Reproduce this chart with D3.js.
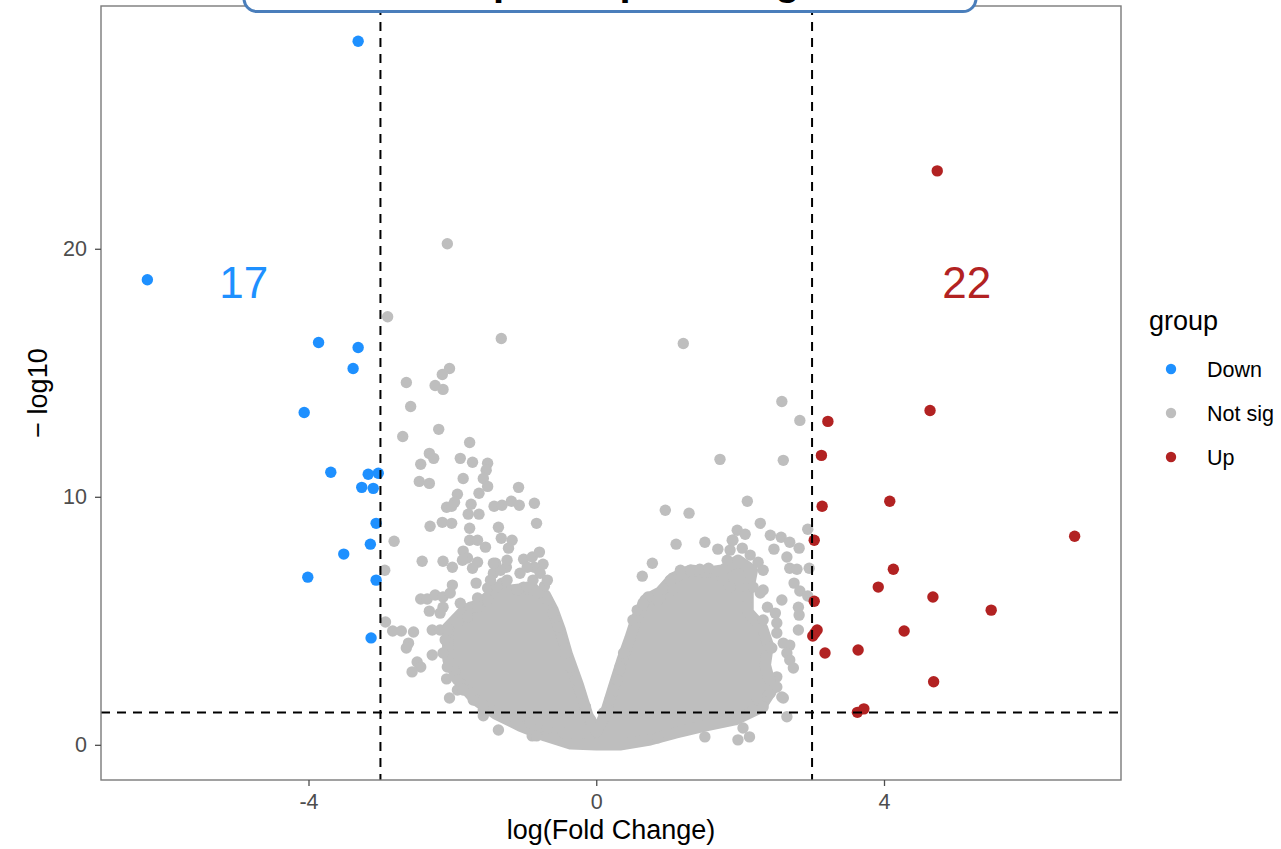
<!DOCTYPE html>
<html>
<head>
<meta charset="utf-8">
<script src="https://cdn.jsdelivr.net/npm/d3@7"></script>
<style>
  html, body { margin: 0; padding: 0; background: #fff; }
  svg { display: block; font-family: "Liberation Sans", Arial, Helvetica, sans-serif; }
</style>
</head>
<body>
<div id="chart"></div>
<script>
// thresholds used by the dashed cut-off lines
const foldChangeCutoff = 3;
const pValueCutoff = 0.05;

const groups = ['Down', 'Not sig', 'Up'];
const groupColors = ['#1E90FF', '#BEBEBE', '#B22222'];

const xTicks = [-4, 0, 4];
const yTicks = [0, 10, 20];

const titleText = 'Volcano plot: Up/Down genes';

/** [logFC, -log10(p)] of the significant down-regulated genes */
const downPoints = [
  [-3.31, 28.37], [-6.24, 18.75], [-3.86, 16.22], [-3.31, 16.02], [-3.38, 15.17],
  [-4.06, 13.40], [-3.69, 10.99], [-3.17, 10.91], [-3.03, 10.95], [-3.26, 10.38],
  [-3.10, 10.34], [-3.06, 8.93], [-3.14, 8.09], [-3.51, 7.69], [-4.01, 6.76],
  [-3.06, 6.64], [-3.13, 4.31]
];

/** [logFC, -log10(p)] of the significant up-regulated genes */
const upPoints = [
  [4.74, 23.14], [4.64, 13.48], [3.22, 13.04], [3.13, 11.67], [4.08, 9.82],
  [3.14, 9.62], [6.65, 8.41], [3.03, 8.25], [4.13, 7.08], [3.92, 6.36],
  [4.68, 5.96], [3.03, 5.79], [5.49, 5.43], [4.28, 4.59], [3.04, 4.51],
  [3.01, 4.39], [3.07, 4.63], [3.64, 3.82], [3.18, 3.70], [4.69, 2.54],
  [3.63, 1.31], [3.72, 1.45]
];

/** [logFC, -log10(p)] of the not significant genes that can be told apart */
const notSigPoints = [
  [-2.07, 20.20], [-2.90, 17.26], [-1.32, 16.38], [-2.04, 15.17], [-2.14, 14.93], [-2.64, 14.61], [-2.24, 14.49], [-2.13, 14.33],
  [-2.58, 13.64], [-2.19, 12.72], [-2.69, 12.43], [-1.76, 12.19], [-2.32, 11.75], [-2.26, 11.55], [-2.44, 11.31], [-1.89, 11.55],
  [-1.72, 11.39], [-1.51, 11.35], [-1.53, 11.07], [-1.85, 10.74], [-2.46, 10.62], [-2.32, 10.54], [-1.57, 10.74], [-1.51, 10.42],
  [-1.08, 10.38], [-1.63, 10.14], [-1.93, 10.10], [-1.97, 9.78], [-2.08, 9.58], [-2.01, 9.62], [-1.74, 9.70], [-1.42, 9.62],
  [-1.31, 9.66], [-1.18, 9.82], [-1.07, 9.66], [-0.86, 9.74], [-1.78, 9.30], [-1.63, 9.30], [-2.31, 8.81], [-2.14, 8.97],
  [-2.01, 8.93], [-1.76, 8.73], [-1.36, 8.77], [-0.83, 8.93], [-2.81, 8.21], [-1.76, 8.25], [-1.65, 8.25], [-1.54, 7.97],
  [-1.32, 8.33], [-1.17, 8.25], [-1.22, 7.93], [-1.85, 7.81], [-1.79, 7.53], [-1.86, 7.44], [-1.65, 7.36], [-1.72, 7.12],
  [-2.13, 7.40], [-2.00, 7.16], [-1.40, 7.32], [-1.43, 6.92], [-1.25, 7.16], [-1.24, 7.44], [-1.01, 7.48], [-0.89, 7.57],
  [-0.79, 7.77], [-0.74, 7.28], [-0.86, 7.16], [-2.42, 7.40], [-2.94, 7.04], [-2.00, 6.44], [-1.67, 6.52], [-1.51, 6.32],
  [-1.31, 6.52], [-1.01, 6.36], [-0.88, 6.32], [-0.72, 6.40], [-2.44, 5.88], [-2.35, 5.88], [-2.24, 6.04], [-2.13, 5.96],
  [-2.03, 6.12], [-1.89, 5.71], [-1.75, 5.55], [-1.65, 5.92], [-2.32, 5.39], [-2.13, 5.55], [-2.17, 5.31], [-2.93, 4.95],
  [-2.83, 4.59], [-2.71, 4.59], [-2.54, 4.55], [-2.61, 4.10], [-2.64, 3.90], [-2.28, 4.63], [-2.17, 4.63], [-2.28, 3.62],
  [-2.49, 3.34], [-2.44, 3.14], [-2.56, 2.94], [-2.08, 2.66], [-1.93, 2.21], [-1.86, 2.25], [-2.04, 1.89], [-1.57, 1.17],
  [-1.36, 0.60], [-0.89, 0.36], [-0.83, 0.36],
  // left lobe rim
  [-2.07, 4.63], [-2.10, 4.23], [-2.13, 3.70], [-2.07, 3.14], [-1.93, 2.62], [-1.85, 2.21], [-1.71, 1.81], [-1.57, 1.41],
  [-1.38, 1.29], [-1.15, 1.13], [-0.92, 0.89], [-0.68, 0.68], [-0.46, 0.48], [-1.93, 4.91], [-1.79, 5.15], [-1.65, 5.55],
  [-1.51, 5.84], [-1.38, 6.36], [-1.24, 6.64], [-1.10, 6.24], [-0.96, 6.36], [-0.82, 6.12], [-0.68, 5.84], [-0.60, 5.31],
  [-0.53, 4.75], [-0.47, 4.23], [-0.43, 3.70], [-0.36, 3.14], [-0.29, 2.62], [-0.22, 2.09], [-0.15, 1.53], [-0.08, 1.01],
  [-1.06, 6.92], [-0.96, 7.16], [-0.88, 6.64], [-0.78, 6.92], [-0.68, 6.64], [-1.47, 6.64], [-1.33, 7.04], [-1.43, 7.32],
  // right side
  [1.21, 16.18], [2.58, 13.84], [2.83, 13.08], [1.72, 11.51], [2.60, 11.47], [0.96, 9.46], [1.29, 9.34], [2.10, 9.82],
  [2.28, 8.93], [1.96, 8.65], [2.07, 8.49], [2.42, 8.45], [2.57, 8.37], [2.69, 8.17], [2.94, 8.69], [1.11, 8.09],
  [1.51, 8.17], [1.69, 7.89], [1.86, 7.85], [1.89, 8.25], [2.47, 7.89], [2.65, 7.57], [2.82, 7.93], [0.78, 7.32],
  [0.64, 6.80], [2.69, 7.12], [2.79, 7.08], [2.96, 7.12], [2.75, 6.52], [2.83, 6.20], [2.32, 6.24], [2.10, 6.32],
  [2.10, 5.92], [0.72, 5.96], [0.89, 5.88], [2.58, 5.84], [2.81, 5.55], [2.94, 6.00], [2.49, 5.31], [2.51, 4.91],
  [2.81, 4.63], [2.74, 3.10], [2.60, 4.10], [2.69, 4.02], [2.44, 3.90], [2.51, 2.74], [2.60, 1.89], [2.42, 2.09],
  [2.24, 1.89], [2.65, 1.13], [2.04, 0.68], [2.13, 0.32], [1.97, 0.20], [1.51, 0.32], [0.85, 0.28], [2.82, 5.23],
  // right lobe rim
  [1.17, 7.04], [1.31, 7.04], [1.44, 7.08], [1.56, 7.12], [1.03, 6.64], [1.07, 6.24], [1.90, 8.25], [2.03, 7.93],
  [2.14, 7.65], [2.25, 7.36], [2.32, 7.04], [1.82, 7.44], [1.76, 6.64], [1.86, 6.36], [2.18, 6.36], [2.28, 6.12],
  [2.38, 5.55], [2.32, 5.03], [2.51, 4.51], [2.42, 3.94], [2.65, 3.70], [2.69, 3.42], [2.42, 2.62], [2.51, 2.33],
  [2.58, 1.93], [2.32, 1.53], [2.18, 1.41], [0.51, 5.03], [0.57, 5.43], [0.65, 5.71], [0.85, 5.84], [0.38, 3.70],
  [0.33, 3.14], [0.29, 2.62], [0.19, 1.81], [0.10, 1.29]
];

/** outline (point centres) of the dense, fully overlapped not-sig cloud */
const notSigCloud = [
  [-2.07, 4.71], [-1.86, 5.35], [-1.61, 5.71], [-1.40, 6.24], [-1.19, 6.24], [-0.94, 6.32], [-0.71, 6.04],
  [-0.60, 5.43], [-0.50, 4.63], [-0.40, 3.62], [-0.25, 2.41], [-0.12, 1.20], [0.00, 0.52], [0.12, 1.20],
  [0.25, 2.41], [0.36, 3.42], [0.47, 4.31], [0.56, 5.11], [0.68, 5.84], [0.89, 6.16], [1.06, 6.72],
  [1.31, 7.04], [1.56, 6.96], [1.75, 7.04], [1.97, 7.44], [2.17, 7.04], [2.11, 6.16], [2.11, 5.35],
  [2.31, 4.71], [2.39, 4.02], [2.35, 3.22], [2.44, 2.21], [2.28, 1.49], [1.93, 1.01], [1.51, 0.76],
  [1.10, 0.48], [0.75, 0.20], [0.33, 0.00], [0.00, 0.00], [-0.36, 0.04], [-0.71, 0.36], [-1.06, 0.76],
  [-1.40, 1.25], [-1.68, 1.81], [-1.89, 2.49], [-2.06, 3.42]
];

/** count labels, placed in data units */
const countLabels = [
  { group: 'Down', x: -4.9, y: 18.65 },
  { group: 'Up', x: 5.15, y: 18.65 }
];

const layout = { width: 1281, height: 849, left: 101, right: 1121, top: 6, bottom: 780 };
const pointRadius = 5.7;
const colorOf = d3.scaleOrdinal().domain(groups).range(groupColors);

const svg = d3.select('#chart')
  .append('svg')
  .attr('width', layout.width)
  .attr('height', layout.height);

/** ggplot-like 5% expansion of a data extent */
function expand([lo, hi]) {
  const pad = (hi - lo) * 0.05;
  return [lo - pad, hi + pad];
}

const allPoints = [].concat(downPoints, upPoints, notSigPoints, notSigCloud);
const x = d3.scaleLinear()
  .domain(expand(d3.extent(allPoints, d => d[0])))
  .range([layout.left, layout.right]);
const y = d3.scaleLinear()
  .domain(expand(d3.extent(allPoints, d => d[1])))
  .range([layout.bottom, layout.top]);

svg.append('clipPath').attr('id', 'panel-clip')
  .append('rect')
  .attr('x', layout.left).attr('y', layout.top)
  .attr('width', layout.right - layout.left).attr('height', layout.bottom - layout.top);

const panel = svg.append('g').attr('clip-path', 'url(#panel-clip)');

// the dense cloud: filled outline, stroked with the dot diameter so its rim sits where the dots end
panel.append('path')
  .datum(notSigCloud)
  .attr('d', d3.line().x(d => x(d[0])).y(d => y(d[1])).curve(d3.curveLinearClosed))
  .attr('fill', colorOf('Not sig'))
  .attr('stroke', colorOf('Not sig'))
  .attr('stroke-width', pointRadius * 2)
  .attr('stroke-linejoin', 'round');

function renderPoints(points, group) {
  panel.append('g')
    .selectAll('circle')
    .data(points)
    .join('circle')
    .attr('cx', d => x(d[0]))
    .attr('cy', d => y(d[1]))
    .attr('r', pointRadius)
    .attr('fill', colorOf(group));
}

renderPoints(notSigPoints, 'Not sig');
renderPoints(downPoints, 'Down');
renderPoints(upPoints, 'Up');

// cut-off lines
const cutLines = panel.append('g')
  .attr('stroke', '#000')
  .attr('stroke-width', 2)
  .attr('stroke-dasharray', '9,7');
[-foldChangeCutoff, foldChangeCutoff].forEach(v => {
  cutLines.append('line')
    .attr('x1', x(v)).attr('x2', x(v))
    .attr('y1', layout.top).attr('y2', layout.bottom);
});
cutLines.append('line')
  .attr('x1', layout.left).attr('x2', layout.right)
  .attr('y1', y(-Math.log10(pValueCutoff))).attr('y2', y(-Math.log10(pValueCutoff)));

// counts of significant genes
const counts = { Down: downPoints.length, Up: upPoints.length };
panel.selectAll('text.count')
  .data(countLabels)
  .join('text')
  .attr('class', 'count')
  .attr('x', d => x(d.x))
  .attr('y', d => y(d.y))
  .attr('dy', '0.36em')
  .attr('text-anchor', 'middle')
  .attr('font-size', 44)
  .attr('fill', d => colorOf(d.group))
  .text(d => counts[d.group]);

// panel border
svg.append('rect')
  .attr('x', layout.left).attr('y', layout.top)
  .attr('width', layout.right - layout.left).attr('height', layout.bottom - layout.top)
  .attr('fill', 'none')
  .attr('stroke', '#7a7a7a')
  .attr('stroke-width', 1.4);

function styleAxis(g) {
  g.select('.domain').remove();
  g.selectAll('.tick line').attr('stroke', '#4d4d4d').attr('stroke-width', 1.3);
  g.selectAll('.tick text')
    .attr('fill', '#4d4d4d')
    .attr('font-size', 21.5)
    .attr('font-family', '"Liberation Sans", Arial, Helvetica, sans-serif');
}

svg.append('g')
  .attr('transform', `translate(0,${layout.bottom})`)
  .call(d3.axisBottom(x).tickValues(xTicks).tickSize(6).tickPadding(8).tickFormat(d3.format('d')))
  .call(styleAxis);

svg.append('g')
  .attr('transform', `translate(${layout.left},0)`)
  .call(d3.axisLeft(y).tickValues(yTicks).tickSize(6).tickPadding(8).tickFormat(d3.format('d')))
  .call(styleAxis);

svg.selectAll('.tick text').text(function () { return this.textContent.replace('\u2212', '-'); });

// axis titles
svg.append('text')
  .attr('x', (layout.left + layout.right) / 2)
  .attr('y', 839)
  .attr('text-anchor', 'middle')
  .attr('font-size', 27)
  .text('log(Fold Change)');

svg.append('text')
  .attr('transform', `translate(47,${(layout.top + layout.bottom) / 2}) rotate(-90)`)
  .attr('text-anchor', 'middle')
  .attr('font-size', 27)
  .text('\u2212 log10');

// legend
const legend = svg.append('g').attr('transform', 'translate(1149,0)');
legend.append('text')
  .attr('x', 0).attr('y', 329.5)
  .attr('font-size', 27)
  .text('group');
const legendItems = legend.selectAll('g.item')
  .data(groups)
  .join('g')
  .attr('class', 'item')
  .attr('transform', (d, i) => `translate(0,${369 + i * 44})`);
legendItems.append('circle')
  .attr('cx', 22).attr('cy', 0)
  .attr('r', 5.2)
  .attr('fill', d => colorOf(d));
legendItems.append('text')
  .attr('x', 58).attr('y', 0)
  .attr('dy', '0.35em')
  .attr('font-size', 21.5)
  .text(d => d);

// title label box, mostly above the visible area as in the source figure
const titleBox = svg.append('g');
titleBox.append('rect')
  .attr('x', 244).attr('y', -48)
  .attr('width', 732).attr('height', 59.5)
  .attr('rx', 13)
  .attr('fill', '#fff')
  .attr('stroke', '#4a7ebb')
  .attr('stroke-width', 3);
titleBox.append('text')
  .attr('x', 610).attr('y', -5)
  .attr('text-anchor', 'middle')
  .attr('font-size', 40)
  .attr('font-weight', 'bold')
  .text(titleText);
</script>
</body>
</html>
